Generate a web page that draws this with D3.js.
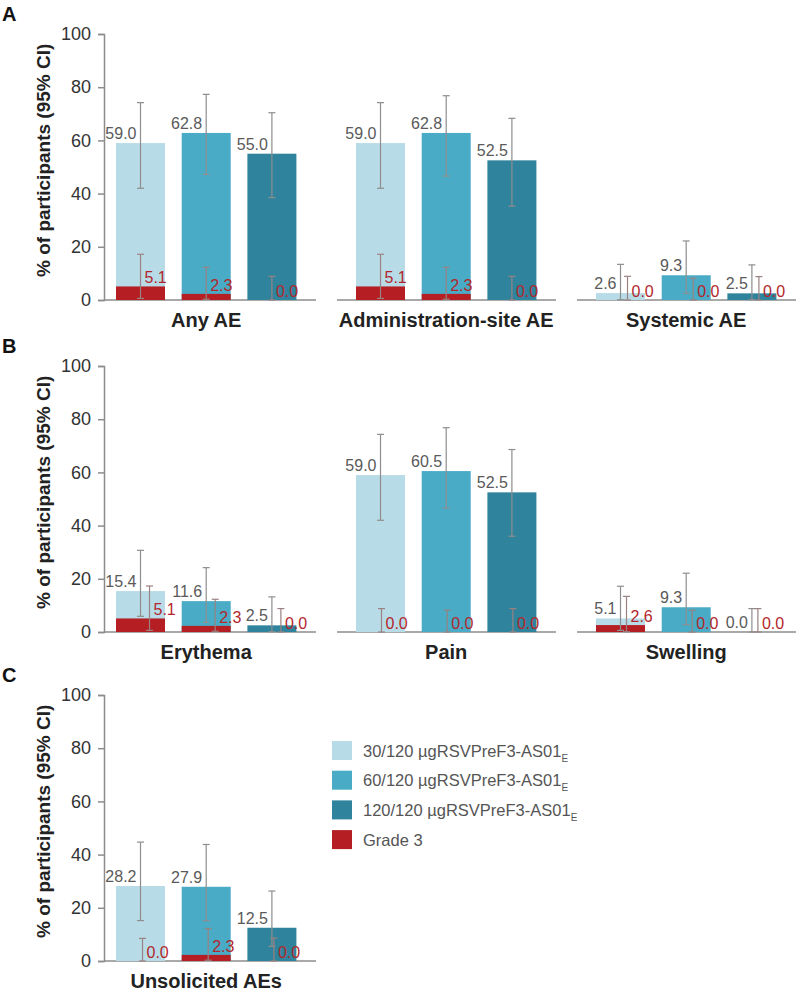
<!DOCTYPE html>
<html>
<head>
<meta charset="utf-8">
<script src="https://cdn.jsdelivr.net/npm/d3@7"></script>
<style>
  html, body { margin: 0; padding: 0; background: #fff; }
  svg { display: block; font-family: "Liberation Sans", Arial, Helvetica, sans-serif; }
</style>
</head>
<body>
<svg id="chart" width="800" height="990"></svg>
<script>
// ---------------- DATA ----------------
const categories = ["Any AE", "Administration-site AE", "Systemic AE",
                    "Erythema", "Pain", "Swelling", "Unsolicited AEs"];
const groups = ["30/120 µgRSVPreF3-AS01", "60/120 µgRSVPreF3-AS01", "120/120 µgRSVPreF3-AS01"];
const gradeLabel = "Grade 3";
const yTicks = [0, 20, 40, 60, 80, 100];

// % of participants, [category][group]
const pct = [
  [59.0, 62.8, 55.0],
  [59.0, 62.8, 52.5],
  [2.6, 9.3, 2.5],
  [15.4, 11.6, 2.5],
  [59.0, 60.5, 52.5],
  [5.1, 9.3, 0.0],
  [28.2, 27.9, 12.5]
];
const ciLow = [
  [42.0, 47.2, 38.5],
  [42.0, 46.6, 35.3],
  [0.1, 2.5, 0.1],
  [5.9, 3.6, 0.1],
  [42.0, 46.6, 36.0],
  [0.6, 2.8, 0.0],
  [15.2, 15.2, 5.5]
];
const ciHigh = [
  [74.2, 77.3, 70.4],
  [74.2, 76.8, 68.3],
  [13.4, 22.2, 13.2],
  [30.7, 24.2, 13.2],
  [74.3, 76.8, 68.6],
  [17.2, 22.1, 8.8],
  [44.7, 43.8, 26.3]
];
// Grade 3
const g3 = [
  [5.1, 2.3, 0.0],
  [5.1, 2.3, 0.0],
  [0.0, 0.0, 0.0],
  [5.1, 2.3, 0.0],
  [0.0, 0.0, 0.0],
  [2.6, 0.0, 0.0],
  [0.0, 2.3, 0.0]
];
const g3Low = [
  [0.6, 0.3, 0.0],
  [0.6, 0.3, 0.0],
  [0.0, 0.0, 0.0],
  [0.6, 0.3, 0.0],
  [0.0, 0.0, 0.0],
  [0.1, 0.0, 0.0],
  [0.0, 0.3, 0.0]
];
const g3High = [
  [17.2, 12.3, 8.9],
  [17.2, 12.3, 8.9],
  [8.9, 8.2, 8.8],
  [17.3, 12.3, 8.8],
  [8.8, 8.2, 8.8],
  [13.4, 8.2, 8.8],
  [8.5, 12.2, 8.6]
];

// panels: letter + category indices
const panelLetters = ["A", "B", "C"];
const panelCats = [[0, 1, 2], [3, 4, 5], [6]];

// ---------------- STYLE / LAYOUT ----------------
const colors = ["#b8dce7", "#49abc6", "#2f839c"];
const red = "#b51e23";
const labelGray = "#5a5a5a";
const labelRed = "#b3272c";
const axisColor = "#8c8c8c";
const errColor = "#8e8e8e";
const errG3Color = "#9a8282";
const panelBaseY = [300, 632, 961];
const axisX = 104;
const plotH = 266;
// small horizontal offset of the grade-3 CI whisker per category (visual placement)
const g3Shift = [0, 0, 7, 9, 1, 6, 2];

const svg = d3.select("#chart");

const groupScale = d3.scaleBand().domain([0, 1, 2]).range([97, 817]).paddingInner(0).paddingOuter(0);
const barScale = d3.scaleBand().domain([0, 1, 2]).range([19, 199.4]).paddingInner(0.254).paddingOuter(0);

panelLetters.forEach((letter, pi) => {
  const y0 = panelBaseY[pi];
  const y = d3.scaleLinear().domain([0, 100]).range([y0, y0 - plotH]);
  const g = svg.append("g");

  // panel letter
  g.append("text").attr("x", 2).attr("y", y(100) - 13.5)
    .attr("font-size", 20).attr("font-weight", "bold").attr("fill", "#111").text(letter);

  // y axis
  const yAxis = d3.axisLeft(y).tickValues(yTicks).tickSize(6).tickPadding(7).tickFormat(d3.format("d"));
  const ax = g.append("g").attr("transform", `translate(${axisX},0)`).call(yAxis);
  ax.select(".domain").attr("stroke", axisColor).attr("stroke-width", 1.5);
  ax.selectAll(".tick line").attr("stroke", axisColor).attr("stroke-width", 1.5);
  ax.selectAll(".tick text").attr("font-size", 18).attr("fill", "#333")
    .attr("font-family", "'Liberation Sans', Arial, sans-serif");

  // y title
  const ty = y(100) + (y(0) - y(100)) * 0.475;
  g.append("text").attr("transform", `translate(50,${ty}) rotate(-90)`)
    .attr("text-anchor", "middle").attr("font-size", 19).attr("font-weight", "bold")
    .attr("fill", "#222").text("% of participants (95% CI)");

  panelCats[pi].forEach((ci, gi) => {
    const gx = groupScale(gi);
    const gg = g.append("g");
    // baseline
    gg.append("line")
      .attr("x1", Math.max(gx, axisX)).attr("x2", gx + 219)
      .attr("y1", y(0)).attr("y2", y(0))
      .attr("stroke", axisColor).attr("stroke-width", 1.5);

    [0, 1, 2].forEach(k => {
      const bx = gx + barScale(k);
      const bw = barScale.bandwidth();
      const cx = bx + bw / 2;
      const cx3 = cx + g3Shift[ci];
      const v = pct[ci][k], v3 = g3[ci][k];
      // main bar
      gg.append("rect").attr("x", bx).attr("width", bw)
        .attr("y", y(v)).attr("height", y(0) - y(v)).attr("fill", colors[k]);
      // grade 3 bar
      if (v3 > 0) {
        gg.append("rect").attr("x", bx).attr("width", bw)
          .attr("y", y(v3)).attr("height", y(0) - y(v3)).attr("fill", red);
      }
      // error bars
      const drawErr = (x, lo, hi, col) => {
        gg.append("line").attr("x1", x).attr("x2", x).attr("y1", y(lo)).attr("y2", y(hi))
          .attr("stroke", col).attr("stroke-width", 1.2);
        [lo, hi].forEach(val => {
          gg.append("line").attr("x1", x - 3.5).attr("x2", x + 3.5)
            .attr("y1", y(val)).attr("y2", y(val)).attr("stroke", col).attr("stroke-width", 1.2);
        });
      };
      drawErr(cx, ciLow[ci][k], ciHigh[ci][k], errColor);
      drawErr(cx3, g3Low[ci][k], g3High[ci][k], errG3Color);
      // labels
      gg.append("text").attr("x", cx - 4).attr("y", y(v) - 4)
        .attr("text-anchor", "end").attr("font-size", 16).attr("fill", labelGray)
        .text(v.toFixed(1));
      gg.append("text").attr("x", cx3 + 4).attr("y", y(v3) - 3)
        .attr("text-anchor", "start").attr("font-size", 16).attr("fill", labelRed)
        .text(v3.toFixed(1));
    });

    // category label
    const center = gx + (barScale(0) + barScale(2) + barScale.bandwidth()) / 2;
    gg.append("text").attr("x", center).attr("y", y(0) + 26.5)
      .attr("text-anchor", "middle").attr("font-size", 20).attr("font-weight", "bold")
      .attr("fill", "#222").text(categories[ci]);
  });
});

// ---------------- LEGEND ----------------
const legendItems = groups.map((name, i) => ({ name, color: colors[i], sub: "E" }))
  .concat([{ name: gradeLabel, color: red, sub: null }]);
const legend = svg.append("g").attr("transform", "translate(332,741)");
const rowStep = 29.7;
legendItems.forEach((d, i) => {
  const row = legend.append("g").attr("transform", `translate(0,${i * rowStep})`);
  row.append("rect").attr("width", 20).attr("height", 19).attr("fill", d.color);
  const t = row.append("text").attr("x", 31).attr("y", 15.7)
    .attr("font-size", 16.5).attr("fill", "#555").text(d.name);
  if (d.sub) {
    t.append("tspan").attr("font-size", 10).attr("dy", 5).text(d.sub);
  }
});
</script>
</body>
</html>
